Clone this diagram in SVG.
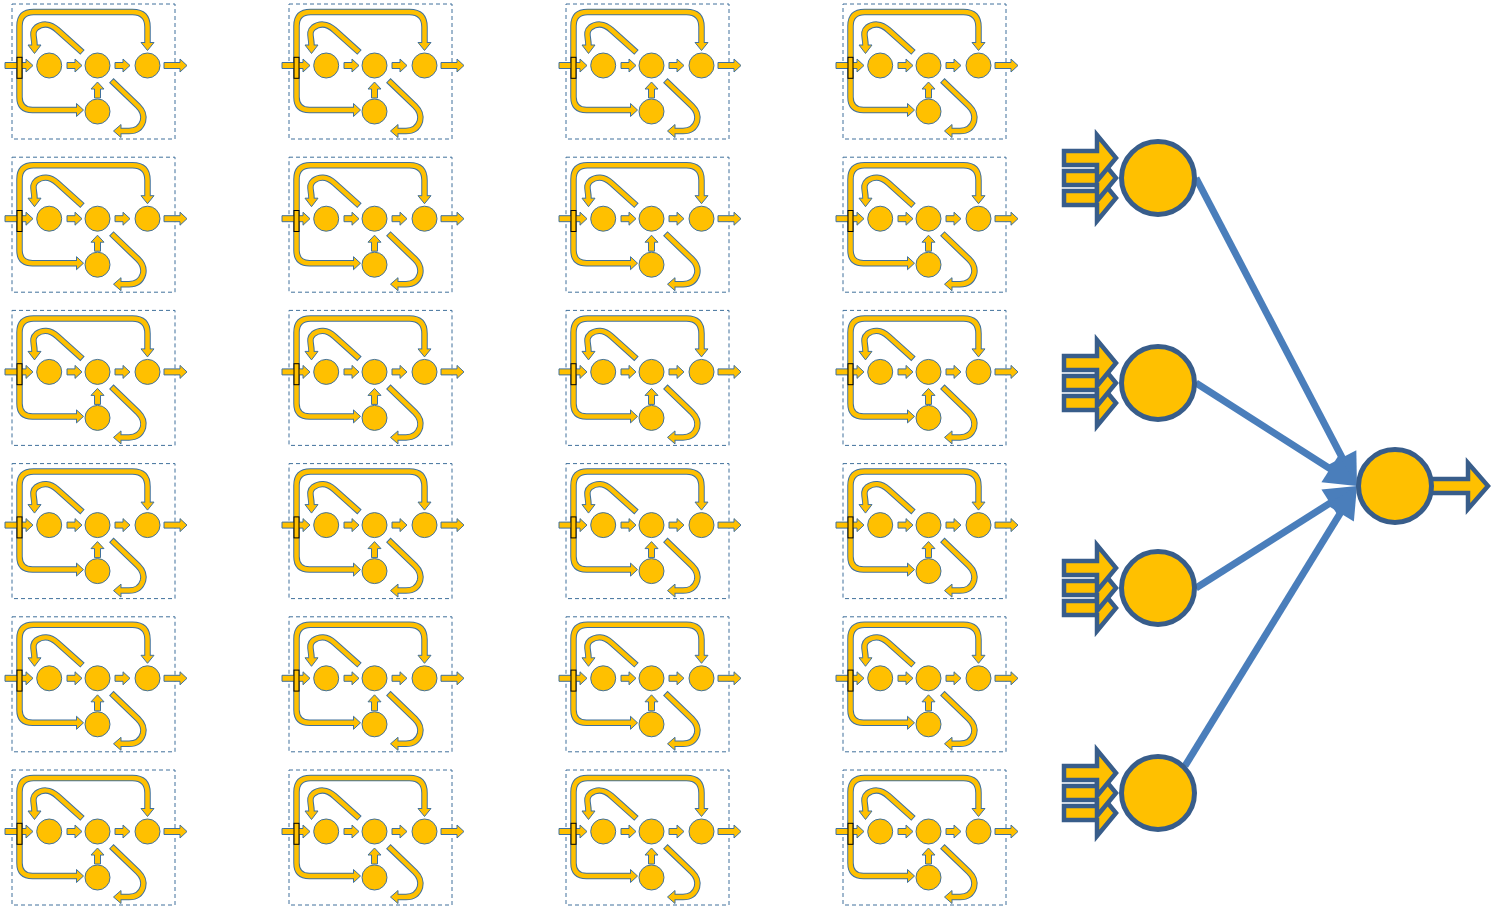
<svg xmlns="http://www.w3.org/2000/svg" xmlns:xlink="http://www.w3.org/1999/xlink" width="1496" height="910" viewBox="0 0 1496 910">
<style>
.box{fill:none;stroke:#41719C;stroke-width:1;stroke-dasharray:4 3}
.lo{fill:none;stroke:#41719C;stroke-width:6.5;stroke-linecap:butt;stroke-linejoin:round}
.lf{fill:none;stroke:#FFC000;stroke-width:4.5;stroke-linecap:butt;stroke-linejoin:round}
.sa{fill:#FFC000;stroke:#41719C;stroke-width:1;stroke-linejoin:miter}
.sc{fill:#FFC000;stroke:#41719C;stroke-width:1}
.ba{fill:#FFC000;stroke:#385D8A;stroke-width:4.5;stroke-linejoin:miter;stroke-miterlimit:10}
.bn{fill:#FFC000;stroke:#385D8A;stroke-width:5}
.conn{fill:none;stroke:#4A7EBB;stroke-width:7;stroke-linecap:butt}
</style>
<defs>
<marker id="ah" markerUnits="userSpaceOnUse" viewBox="0 0 40 40" markerWidth="40" markerHeight="40" refX="20" refY="16" orient="auto" overflow="visible">
<path d="M0,0 L32,16 L0,32 Z" fill="#4A7EBB"/>
</marker>
<g id="cell">
<rect class="box" x="0" y="0" width="163" height="135"/>
<path class="lo" d="M7.5,62 V22 Q7.5,8 21.5,8 H120.5 Q135.5,8 135.5,23 V38.5"/>
<path class="lo" d="M7.5,62 V93 Q7.5,106 20.5,106 H64.5"/>
<path class="lo" d="M70.5,48.4 L45.5,26 C38,19 30,19.5 24.5,23.5 C19,28 22.5,33 22.5,41"/>
<path class="lo" d="M99.3,76.3 L126,102 Q133,109 131,117 Q128,127 117,127 H109"/>
<polygon class="sa" points="129,38.5 142,38.5 135.5,46.5"/>
<polygon class="sa" points="64.5,99.5 64.5,112.5 71.5,106"/>
<polygon class="sa" points="16,41 29,41 22.5,49.5"/>
<polygon class="sa" points="109,120.5 109,133.5 101.5,127"/>
<path class="lf" d="M7.5,62 V22 Q7.5,8 21.5,8 H120.5 Q135.5,8 135.5,23 V40"/>
<path class="lf" d="M7.5,62 V93 Q7.5,106 20.5,106 H66"/>
<path class="lf" d="M69.8,47.8 L45.5,26 C38,19 30,19.5 24.5,23.5 C19,28 22.5,33 22.5,42.5"/>
<path class="lf" d="M100,77 L126,102 Q133,109 131,117 Q128,127 117,127 H107.5"/>
<polygon class="sa" points="-7,58.5 14,58.5 14,55 21,61.5 14,68 14,64.5 -7,64.5"/>
<polygon class="sa" points="55,58.5 63,58.5 63,55 70,61.5 63,68 63,64.5 55,64.5"/>
<polygon class="sa" points="103,58.5 111,58.5 111,55 118,61.5 111,68 111,64.5 103,64.5"/>
<polygon class="sa" points="152,58.5 168,58.5 168,55 175,61.5 168,68 168,64.5 152,64.5"/>
<polygon class="sa" points="82.5,94 82.5,85 79,85 85.5,78 92,85 88.5,85 88.5,94"/>
<circle class="sc" cx="37.2" cy="61.5" r="12.5"/>
<circle class="sc" cx="85.5" cy="61.5" r="12.5"/>
<circle class="sc" cx="135.5" cy="61.5" r="12.5"/>
<circle class="sc" cx="85.5" cy="107.5" r="12.5"/>
<rect x="5" y="53.3" width="5" height="21" fill="#FFC000" stroke="#000" stroke-width="1"/>
</g>
<g id="tri">
<polygon class="ba" points="-94,13 -61,13 -61,-3 -42,20 -61,43 -61,27 -94,27"/>
<polygon class="ba" points="-94,-7 -61,-7 -61,-23 -42,0 -61,23 -61,7 -94,7"/>
<polygon class="ba" points="-94,-27 -61,-27 -61,-43 -42,-20 -61,3 -61,-13 -94,-13"/>
</g>
</defs>
<g id="cells">
<g id="cell-r1c1" transform="translate(12,4)"><use xlink:href="#cell" href="#cell"/></g>
<g id="cell-r1c2" transform="translate(289,4)"><use xlink:href="#cell" href="#cell"/></g>
<g id="cell-r1c3" transform="translate(566,4)"><use xlink:href="#cell" href="#cell"/></g>
<g id="cell-r1c4" transform="translate(843,4)"><use xlink:href="#cell" href="#cell"/></g>
<g id="cell-r2c1" transform="translate(12,157.2)"><use xlink:href="#cell" href="#cell"/></g>
<g id="cell-r2c2" transform="translate(289,157.2)"><use xlink:href="#cell" href="#cell"/></g>
<g id="cell-r2c3" transform="translate(566,157.2)"><use xlink:href="#cell" href="#cell"/></g>
<g id="cell-r2c4" transform="translate(843,157.2)"><use xlink:href="#cell" href="#cell"/></g>
<g id="cell-r3c1" transform="translate(12,310.4)"><use xlink:href="#cell" href="#cell"/></g>
<g id="cell-r3c2" transform="translate(289,310.4)"><use xlink:href="#cell" href="#cell"/></g>
<g id="cell-r3c3" transform="translate(566,310.4)"><use xlink:href="#cell" href="#cell"/></g>
<g id="cell-r3c4" transform="translate(843,310.4)"><use xlink:href="#cell" href="#cell"/></g>
<g id="cell-r4c1" transform="translate(12,463.6)"><use xlink:href="#cell" href="#cell"/></g>
<g id="cell-r4c2" transform="translate(289,463.6)"><use xlink:href="#cell" href="#cell"/></g>
<g id="cell-r4c3" transform="translate(566,463.6)"><use xlink:href="#cell" href="#cell"/></g>
<g id="cell-r4c4" transform="translate(843,463.6)"><use xlink:href="#cell" href="#cell"/></g>
<g id="cell-r5c1" transform="translate(12,616.8)"><use xlink:href="#cell" href="#cell"/></g>
<g id="cell-r5c2" transform="translate(289,616.8)"><use xlink:href="#cell" href="#cell"/></g>
<g id="cell-r5c3" transform="translate(566,616.8)"><use xlink:href="#cell" href="#cell"/></g>
<g id="cell-r5c4" transform="translate(843,616.8)"><use xlink:href="#cell" href="#cell"/></g>
<g id="cell-r6c1" transform="translate(12,770)"><use xlink:href="#cell" href="#cell"/></g>
<g id="cell-r6c2" transform="translate(289,770)"><use xlink:href="#cell" href="#cell"/></g>
<g id="cell-r6c3" transform="translate(566,770)"><use xlink:href="#cell" href="#cell"/></g>
<g id="cell-r6c4" transform="translate(843,770)"><use xlink:href="#cell" href="#cell"/></g>
</g>
<g id="connectors">
<line class="conn" x1="1196" y1="178" x2="1351.4" y2="475.4" marker-end="url(#ah)"/>
<line class="conn" x1="1196" y1="383" x2="1346.9" y2="479.5" marker-end="url(#ah)"/>
<line class="conn" x1="1196" y1="588" x2="1346.9" y2="492.4" marker-end="url(#ah)"/>
<line class="conn" x1="1185" y1="766" x2="1350.7" y2="496.2" marker-end="url(#ah)"/>
</g>
<g id="node-1" transform="translate(1158,178)"><use xlink:href="#tri" href="#tri"/><circle class="bn" cx="0" cy="0" r="36.5"/></g>
<g id="node-2" transform="translate(1158,383)"><use xlink:href="#tri" href="#tri"/><circle class="bn" cx="0" cy="0" r="36.5"/></g>
<g id="node-3" transform="translate(1158,588)"><use xlink:href="#tri" href="#tri"/><circle class="bn" cx="0" cy="0" r="36.5"/></g>
<g id="node-4" transform="translate(1158,793)"><use xlink:href="#tri" href="#tri"/><circle class="bn" cx="0" cy="0" r="36.5"/></g>
<g id="node-out">
<polygon class="ba" points="1425,479 1468,479 1468,463 1488,486 1468,509 1468,493 1425,493"/>
<circle class="bn" cx="1395" cy="486" r="36.5"/>
</g>
</svg>
